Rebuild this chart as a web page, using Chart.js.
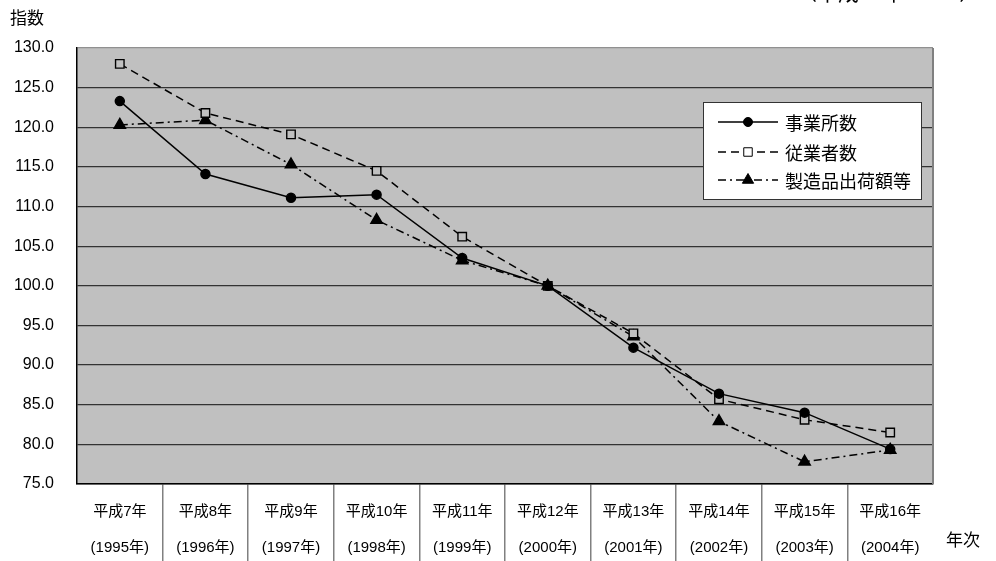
<!DOCTYPE html>
<html><head><meta charset="utf-8">
<script src="https://cdn.jsdelivr.net/npm/chart.js@4/dist/chart.umd.min.js"></script>
<style>html,body{margin:0;padding:0;background:#fff;overflow:hidden}#wrap{width:996px;height:561px}</style>
</head><body><div id="wrap"><canvas id="c" width="996" height="561"></canvas></div>
<script>
// ---- data ----
const categories = [
  ['平成7年','(1995年)'], ['平成8年','(1996年)'], ['平成9年','(1997年)'], ['平成10年','(1998年)'],
  ['平成11年','(1999年)'], ['平成12年','(2000年)'], ['平成13年','(2001年)'], ['平成14年','(2002年)'],
  ['平成15年','(2003年)'], ['平成16年','(2004年)']
];
const seriesNames = ['事業所数', '従業者数', '製造品出荷額等'];
const establishments = [123.3, 114.1, 111.1, 111.5, 103.5, 100.0, 92.2, 86.4, 84.0, 79.4];
const employees      = [128.0, 121.8, 119.1, 114.5, 106.2, 100.0, 94.0, 85.7, 83.1, 81.5];
const shipments      = [120.3, 120.9, 115.3, 108.3, 103.2, 100.0, 93.6, 82.9, 77.8, 79.3];
const yMin = 75, yMax = 130, yStep = 5;
const yTitle = '指数';
const xTitle = '年次';
const noteText = '（平成12年＝100）';

// ---- styles ----
const CJK = '"Liberation Sans", "Noto Sans CJK JP", sans-serif';
const legendRows = [122, 152, 180];

const decor = {
  id: 'decor',
  beforeDraw(chart) {
    const {ctx, chartArea: a} = chart;
    ctx.save();
    ctx.fillStyle = '#ffffff';
    ctx.fillRect(0, 0, chart.width, chart.height);
    ctx.fillStyle = '#c0c0c0';
    ctx.fillRect(a.left, a.top, a.right - a.left, a.bottom - a.top);
    ctx.restore();
  },
  afterDraw(chart) {
    const {ctx, chartArea: a} = chart;
    ctx.save();
    // right border of plot area
    ctx.strokeStyle = '#808080';
    ctx.lineWidth = 2;
    ctx.beginPath();
    ctx.moveTo(a.right, a.top);
    ctx.lineTo(a.right, a.bottom);
    ctx.stroke();
    // legend
    const bx = 703, by = 102, bw = 218, bh = 97;
    ctx.fillStyle = '#ffffff';
    ctx.fillRect(bx, by, bw, bh);
    ctx.strokeStyle = '#333333';
    ctx.lineWidth = 1;
    ctx.strokeRect(bx + 0.5, by + 0.5, bw, bh);
    chart.data.datasets.forEach((d, i) => {
      const y = legendRows[i];
      ctx.strokeStyle = '#000';
      ctx.lineWidth = d.borderWidth;
      ctx.setLineDash(d.borderDash || []);
      ctx.beginPath();
      ctx.moveTo(718, y);
      ctx.lineTo(778, y);
      ctx.stroke();
      ctx.setLineDash([]);
      ctx.fillStyle = d.pointStyle === 'rect' ? '#ffffff' : '#000';
      ctx.strokeStyle = '#000';
      ctx.lineWidth = 1;
      Chart.helpers.drawPoint(ctx, {pointStyle: d.pointStyle, radius: d.pointRadius, rotation: 0, borderWidth: 1}, 748, y);
      ctx.fillStyle = '#000';
      ctx.font = '18px "Noto Sans CJK JP"';
      ctx.textBaseline = 'middle';
      ctx.textAlign = 'left';
      ctx.fillText(d.label, 785, y + 1);
    });
    // texts
    ctx.fillStyle = '#000';
    ctx.font = '17px "Noto Sans CJK JP"';
    ctx.textBaseline = 'middle';
    ctx.textAlign = 'left';
    ctx.fillText(yTitle, 10, 18);
    ctx.fillText(xTitle, 946, 540);
    ctx.font = '21px "Noto Sans CJK JP"';
    ctx.textBaseline = 'bottom';
    ctx.fillText(noteText, 796, 3);
    ctx.restore();
  }
};

new Chart(document.getElementById('c'), {
  type: 'line',
  data: {
    labels: categories,
    datasets: [
      {label: seriesNames[0], data: establishments, borderColor: '#000', backgroundColor: '#000',
       borderWidth: 1.5, pointStyle: 'circle', pointRadius: 4.5, pointBackgroundColor: '#000', pointBorderColor: '#000', tension: 0},
      {label: seriesNames[1], data: employees, borderColor: '#000', backgroundColor: '#c0c0c0',
       borderWidth: 1.5, borderDash: [8, 5], pointStyle: 'rect', pointRadius: 6, pointBackgroundColor: '#c0c0c0', pointBorderColor: '#000', pointBorderWidth: 1.4, tension: 0},
      {label: seriesNames[2], data: shipments, borderColor: '#000', backgroundColor: '#000',
       borderWidth: 1.5, borderDash: [8, 4, 2, 4], pointStyle: 'triangle', pointRadius: 6.5, pointBackgroundColor: '#000', pointBorderColor: '#000', tension: 0}
    ]
  },
  options: {
    responsive: false,
    animation: false,
    devicePixelRatio: 1,
    layout: {padding: {top: 48, right: 63, left: 0, bottom: 0}},
    plugins: {legend: {display: false}, title: {display: false}, tooltip: {enabled: false}},
    scales: {
      x: {
        type: 'category',
        offset: true,
        afterFit(s) { s.height = 77; },
        border: {color: '#000', width: 1.5},
        grid: {
          offset: true,
          drawOnChartArea: false,
          drawTicks: true,
          tickLength: 77,
          lineWidth: 1.5,
          color: (ctx) => (ctx.index === undefined || ctx.index === 0) ? 'rgba(0,0,0,0)' : '#808080'
        },
        ticks: {
          autoSkip: false, maxRotation: 0, padding: -67, color: '#000',
          font: {family: CJK, size: 15, lineHeight: 2.4}
        }
      },
      y: {
        min: yMin, max: yMax,
        afterFit(s) { s.width = 77; },
        border: {color: '#000', width: 1.5},
        grid: {
          drawTicks: false,
          lineWidth: 1.2,
          color: (ctx) => (ctx.tick && ctx.tick.value === yMax) ? '#909090' : '#333333'
        },
        ticks: {
          stepSize: yStep, padding: 23, color: '#000',
          font: {family: '"Liberation Sans", Arial, sans-serif', size: 16},
          callback: (v) => Number(v).toFixed(1)
        }
      }
    }
  },
  plugins: [decor]
});
</script>
</body></html>
